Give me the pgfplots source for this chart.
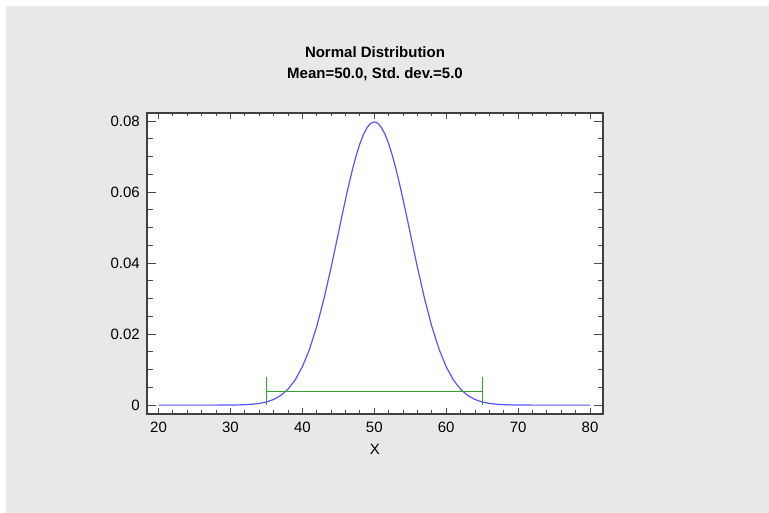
\documentclass[border=0pt]{standalone}
\usepackage{fontspec}
\setmainfont{Liberation Sans}
\usepackage{pgfplots}
\pgfplotsset{compat=1.18}
\usepackage{pgfplotstable}

\definecolor{bggray}{HTML}{E8E8E8}
\definecolor{curveblue}{RGB}{85,85,255}
\definecolor{ivgreen}{RGB}{50,160,50}

% normal density, mean 50, sd 5
\pgfplotstableread{
x y
20 0
21 0
22 0
23 0
24 0
25 0
26 0.0000008
27 0.0000020
28 0.0000050
29 0.0000118
30 0.0000268
31 0.0000584
32 0.000122
33 0.000246
34 0.000477
35 0.000886
36 0.001583
37 0.002717
38 0.004479
39 0.007095
40 0.010798
41 0.015790
42 0.022184
43 0.029945
44 0.038837
44.5 0.043571
45 0.048394
45.5 0.053217
46 0.057938
46.5 0.062451
47 0.066645
47.5 0.070413
48 0.073654
48.5 0.076278
49 0.078209
49.5 0.079390
50 0.079788
50.5 0.079390
51 0.078209
51.5 0.076278
52 0.073654
52.5 0.070413
53 0.066645
53.5 0.062451
54 0.057938
54.5 0.053217
55 0.048394
55.5 0.043571
56 0.038837
57 0.029945
58 0.022184
59 0.015790
60 0.010798
61 0.007095
62 0.004479
63 0.002717
64 0.001583
65 0.000886
66 0.000477
67 0.000246
68 0.000122
69 0.0000584
70 0.0000268
71 0.0000118
72 0.0000050
73 0.0000020
74 0.0000008
75 0
76 0
77 0
78 0
79 0
80 0
}\pdfdata

\begin{document}
\frenchspacing
\begin{tikzpicture}
\fill[white] (0,0) rectangle (769pt,513pt);
\fill[bggray] (6pt,0) rectangle (769pt,507pt);
\begin{axis}[
  at={(147pt,99pt)}, anchor=south west,
  scale only axis, width=456pt, height=301pt,
  axis background/.style={fill=white},
  xmin=18.4, xmax=81.8,
  ymin=-0.0025, ymax=0.0823,
  xtick={20,30,...,80},
  ytick={0,0.02,0.04,0.06,0.08},
  scaled ticks=false,
  minor x tick num=4,
  minor y tick num=3,
  tick align=inside,
  axis line style={draw=black!75, line width=1.1pt},
  tick style={draw=black!70, line width=0.9pt},
  xtick style={/pgfplots/major tick length=6pt, /pgfplots/minor tick length=3.5pt},
  ytick style={/pgfplots/major tick length=9pt, /pgfplots/minor tick length=5.5pt},
  ticklabel style={font=\fontsize{15}{18}\selectfont, inner sep=0pt,
    /pgf/number format/assume math mode=true,
    /pgf/number format/fixed, /pgf/number format/precision=2},
  xticklabel style={yshift=-8pt},
  yticklabel style={xshift=-7pt},
  xlabel={X},
  xlabel style={font=\fontsize{15}{18}\selectfont, at={(0.5,0)}, anchor=center, yshift=-35pt},
  title={Normal Distribution\\Mean=50.0, Std. dev.=5.0},
  title style={align=center, font=\bfseries\fontsize{15}{21}\selectfont,
    inner sep=0pt, at={(0.5,1)}, anchor=south, yshift=26pt},
]
\addplot[curveblue, line width=1.2pt] table[x=x, y=y] {\pdfdata};
\addplot[ivgreen, line width=1.2pt] coordinates {(35,0) (35,0.0078)};
\addplot[ivgreen, line width=1.2pt] coordinates {(35,0.0039) (65,0.0039)};
\addplot[ivgreen, line width=1.2pt] coordinates {(65,0) (65,0.0078)};
\end{axis}
\end{tikzpicture}
\end{document}
